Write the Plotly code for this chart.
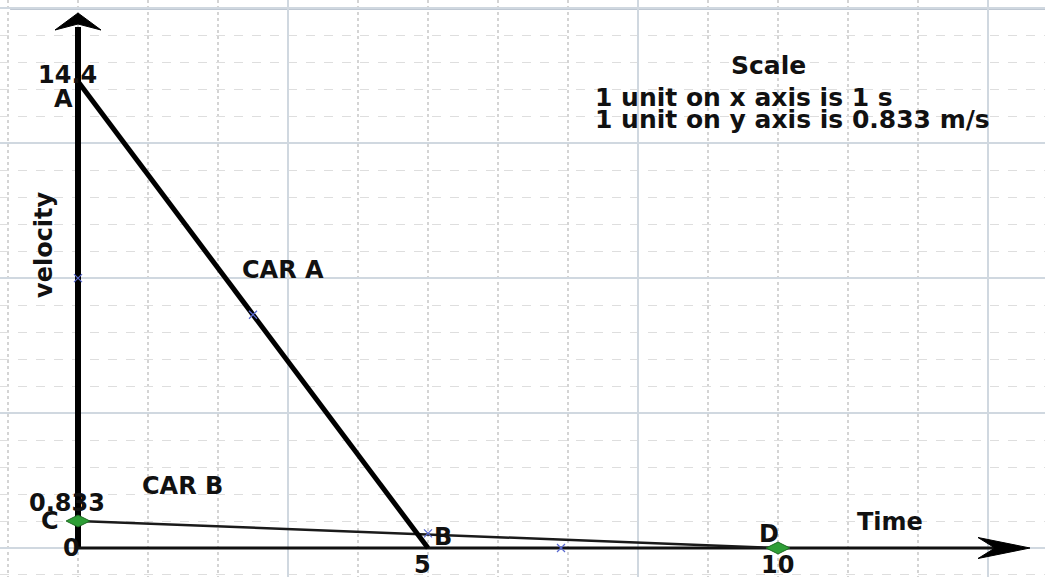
import plotly.graph_objects as go

# ---- data ----
car_a_t = [0, 5]
car_a_v = [14.4, 0]
car_b_t = [0, 10]
car_b_v = [0.833, 0]
point_names = ["A", "B", "C", "D"]
point_t = [0, 5, 0, 10]
point_v = [14.4, 0, 0.833, 0]
green_t = [0, 10]
green_v = [0.833, 0]
mark_t = [0, 2.5, 5, 6.9]
mark_v = [8.33, 7.2, 0.45, 0]
x_tick_vals = [5, 10]
x_tick_text = ["5", "10"]
y_tick_vals = [0, 0.833, 14.4]
y_tick_text = ["0", "0.833", "14.4"]
scale_lines = ["Scale", "1 unit on x axis is 1 s", "1 unit on y axis is 0.833 m/s"]
y_unit = 0.833
x_unit = 1

# ---- geometry (pixels) ----
W, H = 1045, 577
X0PX, XPU = 78, 70.0      # pixel of t=0, pixels per second
Y0PX, YPU = 548, 32.4     # pixel of v=0, pixels per m/s
x_range = [(0 - X0PX) / XPU, (W - X0PX) / XPU]
y_range = [(Y0PX - H) / YPU, (Y0PX - 0) / YPU]
x_tip = (1030 - X0PX) / XPU
y_tip = (Y0PX - 13) / YPU

FONT = dict(family="DejaVu Sans", size=24, color="#111111", weight="bold")
FONT_S = dict(family="DejaVu Sans", size=25, color="#111111", weight="bold")

fig = go.Figure()

# axes lines
fig.add_trace(go.Scatter(x=[0, 0], y=[0, y_tip - 14 / YPU], mode="lines",
                         line=dict(color="black", width=6), hoverinfo="skip"))
fig.add_trace(go.Scatter(x=[0, x_tip - 30 / XPU], y=[0, 0], mode="lines",
                         line=dict(color="#111111", width=3), hoverinfo="skip"))
# car lines
fig.add_trace(go.Scatter(x=car_b_t, y=car_b_v, mode="lines",
                         line=dict(color="#1a1a1a", width=2.5), name="CAR B"))
fig.add_trace(go.Scatter(x=car_a_t, y=car_a_v, mode="lines",
                         line=dict(color="black", width=5), name="CAR A"))
# green points
fig.add_trace(go.Scatter(x=green_t, y=green_v, mode="markers",
                         marker=dict(symbol="diamond-wide", size=17, color="#2e9e36",
                                     line=dict(color="#1d6b22", width=1))))
# small blue marks
fig.add_trace(go.Scatter(x=mark_t, y=mark_v, mode="markers",
                         marker=dict(symbol="x-thin", size=8,
                                     line=dict(color="#5a6ad0", width=1.2))))

ann = []
# point labels
pl_shift = {"A": (-15, -18), "B": (15, 11), "C": (-28, 0), "D": (-9, 14)}
for n, t, v in zip(point_names, point_t, point_v):
    dx, dy = pl_shift[n]
    ann.append(dict(x=t, y=v, text=n, showarrow=False, xshift=dx, yshift=dy, font=FONT))
# tick labels
for t, s in zip(x_tick_vals, x_tick_text):
    ann.append(dict(x=t, y=0, text=s, showarrow=False, xshift=-6 if t < 10 else -1,
                    yshift=-17, font=FONT))
ytl_shift = {"0": (-7, 0), "0.833": (-11, 18), "14.4": (-11, 6)}
for v, s in zip(y_tick_vals, y_tick_text):
    dx, dy = ytl_shift[s]
    ann.append(dict(x=0, y=v, text=s, showarrow=False, xshift=dx, yshift=dy, font=FONT))
# other texts
ann.append(dict(x=(283 - X0PX) / XPU, y=(Y0PX - 270) / YPU, text="CAR A", showarrow=False, font=FONT))
ann.append(dict(x=(182 - X0PX) / XPU, y=(Y0PX - 486) / YPU, text="CAR B", showarrow=False, font=FONT))
ann.append(dict(x=(890 - X0PX) / XPU, y=(Y0PX - 522) / YPU, text="Time", showarrow=False, font=FONT))
ann.append(dict(x=(44 - X0PX) / XPU, y=(Y0PX - 245) / YPU, text="velocity", textangle=-90,
                showarrow=False, font=FONT))
ann.append(dict(x=(768 - X0PX) / XPU, y=(Y0PX - 65) / YPU, text=scale_lines[0], showarrow=False, font=FONT_S))
ann.append(dict(x=(593 - X0PX) / XPU, y=(Y0PX - 97) / YPU, text=scale_lines[1], xanchor="left",
                showarrow=False, font=FONT_S))
ann.append(dict(x=(593 - X0PX) / XPU, y=(Y0PX - 119) / YPU, text=scale_lines[2], xanchor="left",
                showarrow=False, font=FONT_S))

shapes = [
    # top border of graph paper
    dict(type="line", xref="x", yref="y", x0=-0.97, x1=x_range[1], y0=20 * y_unit, y1=20 * y_unit,
         line=dict(color="#7f8fa6", width=2.5), layer="below"),
    # y arrow head
    dict(type="path", xref="x", yref="y", xsizemode="pixel", ysizemode="pixel",
         xanchor=0, yanchor=y_tip, path="M0,0 L-23,-17 L0,-11 L23,-17 Z",
         fillcolor="black", line=dict(color="black", width=1)),
    # x arrow head
    dict(type="path", xref="x", yref="y", xsizemode="pixel", ysizemode="pixel",
         xanchor=x_tip, yanchor=0, path="M0,0 L-52,10.5 L-35,0 L-52,-10.5 Z",
         fillcolor="black", line=dict(color="black", width=1)),
]

fig.update_layout(
    width=W, height=H, autosize=False,
    margin=dict(l=0, r=0, t=0, b=0, pad=0),
    paper_bgcolor="white", plot_bgcolor="white",
    showlegend=False,
    annotations=ann, shapes=shapes,
    xaxis=dict(range=x_range, showticklabels=False, ticks="", zeroline=False,
               showgrid=True, dtick=5 * x_unit, tick0=3, gridcolor="#d0d8e0", gridwidth=1.5,
               minor=dict(dtick=x_unit, tick0=0, showgrid=True, gridcolor="#d4d4d4",
                          griddash="dot", gridwidth=1.5, ticks="")),
    yaxis=dict(range=y_range, showticklabels=False, ticks="", zeroline=False,
               showgrid=True, dtick=5 * y_unit, tick0=0, gridcolor="#d0d8e0", gridwidth=1.5,
               minor=dict(dtick=y_unit, tick0=0, showgrid=True, gridcolor="#dedede",
                          griddash="dash", gridwidth=1.2, ticks="")),
)

fig.write_html("out.html", config={"displayModeBar": False},
               post_script="document.body.style.margin='0';")
